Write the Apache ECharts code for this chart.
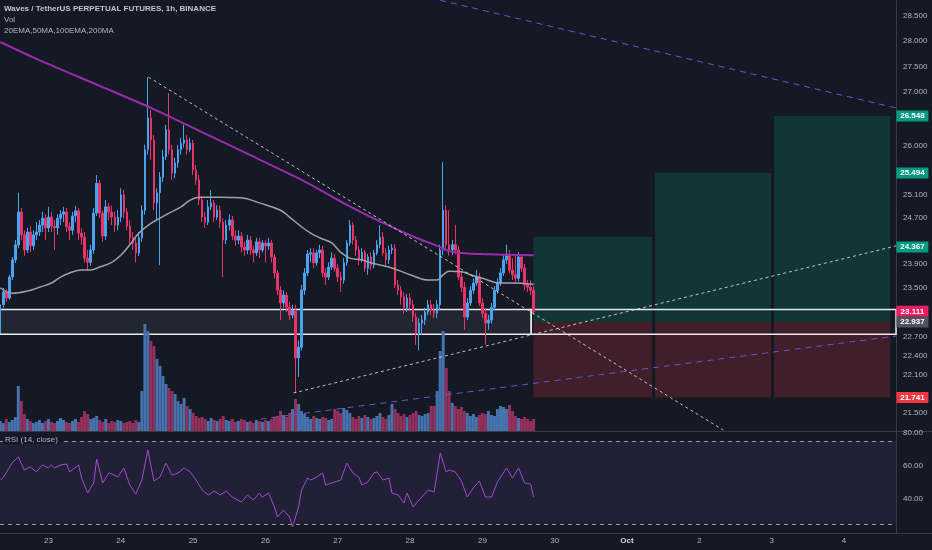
<!DOCTYPE html>
<html><head><meta charset="utf-8">
<script src="https://cdn.jsdelivr.net/npm/echarts@6/dist/echarts.min.js"></script>
<style>html,body{margin:0;padding:0;background:#151924;overflow:hidden}#c{width:932px;height:550px}</style>
</head><body><div id="c"></div>
<script>
// 1h candles, index 0 = 22 Sep 08:00 ; index 16 = 23 Sep 00:00
const opens = [
22.76,23.22,23.43,23.33,23.68,23.97,24.23,24.80,24.40,24.14,
24.45,24.21,24.40,24.45,24.57,24.69,24.52,24.71,24.55,24.52,
24.69,24.76,24.80,24.54,24.48,24.73,24.82,24.43,24.36,24.00,
23.93,24.14,24.78,25.31,24.78,24.38,24.89,24.80,24.71,24.57,
24.71,25.10,24.80,24.55,24.35,24.26,24.09,24.35,24.83,25.92,
26.51,26.10,24.96,25.14,25.42,25.79,26.29,25.92,25.49,25.68,
25.92,26.04,26.10,25.92,26.04,25.55,25.37,25.01,24.71,24.62,
24.89,24.96,24.71,24.83,24.62,24.31,24.57,24.66,24.38,24.31,
24.38,24.19,24.14,24.31,24.14,24.09,24.28,24.14,24.26,24.21,
24.26,24.02,23.75,23.46,23.25,23.38,23.18,23.05,23.13,22.36,
22.53,23.46,23.75,24.07,24.09,23.92,24.09,24.14,23.75,23.68,
23.85,24.00,23.83,23.68,23.63,23.92,24.26,24.57,24.31,24.14,
23.97,24.10,23.83,24.02,23.88,24.09,24.23,24.36,24.09,23.97,
24.14,24.17,23.55,23.46,23.35,23.17,23.33,23.22,23.02,22.76,
22.92,22.97,23.10,23.22,23.13,23.08,23.22,24.14,24.83,24.23,
24.14,24.23,24.14,23.68,23.51,23.02,23.25,23.46,23.58,23.68,
23.25,23.08,22.92,22.97,23.18,23.46,23.58,23.75,23.97,24.05,
23.80,23.72,23.66,24.02,23.83,23.55,23.51,23.46];
const closes = [
23.22,23.43,23.33,23.68,23.97,24.23,24.80,24.40,24.14,24.45,
24.21,24.40,24.45,24.57,24.69,24.52,24.71,24.55,24.52,24.69,
24.76,24.80,24.54,24.48,24.73,24.82,24.43,24.36,24.00,23.93,
24.14,24.78,25.31,24.78,24.38,24.89,24.80,24.71,24.57,24.71,
25.10,24.80,24.55,24.35,24.26,24.09,24.35,24.83,25.92,26.51,
26.10,24.96,25.14,25.42,25.79,26.29,25.92,25.49,25.68,25.92,
26.04,26.10,25.92,26.04,25.55,25.37,25.01,24.71,24.62,24.89,
24.96,24.71,24.83,24.62,24.31,24.57,24.66,24.38,24.31,24.38,
24.19,24.14,24.31,24.14,24.09,24.28,24.14,24.26,24.21,24.26,
24.02,23.75,23.46,23.25,23.38,23.18,23.05,23.13,22.36,22.53,
23.46,23.75,24.07,24.09,23.92,24.09,24.14,23.75,23.68,23.85,
24.00,23.83,23.68,23.63,23.92,24.26,24.57,24.31,24.14,23.97,
24.10,23.83,24.02,23.88,24.09,24.23,24.36,24.09,23.97,24.14,
24.17,23.55,23.46,23.35,23.17,23.33,23.22,23.02,22.76,22.92,
22.97,23.10,23.22,23.13,23.08,23.22,24.14,24.83,24.23,24.14,
24.23,24.14,23.68,23.51,23.02,23.25,23.46,23.58,23.68,23.25,
23.08,22.92,22.97,23.18,23.46,23.58,23.75,23.97,24.05,23.80,
23.72,23.66,24.02,23.83,23.55,23.51,23.46,23.11];
const highs = [
23.30,23.50,23.48,23.72,24.02,24.31,25.14,24.87,24.48,24.52,
24.55,24.48,24.62,24.66,24.80,24.76,24.89,24.80,24.66,24.76,
24.83,24.89,24.87,24.62,24.80,24.91,24.87,24.52,24.45,24.14,
24.23,24.87,25.46,25.37,24.83,25.01,24.96,24.91,24.80,24.83,
25.22,25.19,24.87,24.66,24.45,24.35,24.45,24.92,26.01,27.29,
26.66,26.19,25.22,25.51,25.92,26.38,26.98,26.01,25.77,26.01,
26.14,26.38,26.19,26.14,26.10,25.64,25.46,25.08,24.80,25.01,
25.19,25.01,24.92,24.91,24.69,24.66,24.76,24.73,24.48,24.48,
24.45,24.28,24.40,24.38,24.21,24.35,24.35,24.31,24.31,24.35,
24.31,24.07,23.80,23.53,23.46,23.43,23.27,23.22,23.22,22.64,
23.55,23.83,24.14,24.17,24.17,24.14,24.23,24.21,23.83,23.93,
24.10,24.07,23.90,23.77,24.00,24.31,24.66,24.62,24.38,24.21,
24.17,24.14,24.07,24.10,24.14,24.31,24.57,24.45,24.17,24.21,
24.24,24.24,23.63,23.53,23.43,23.40,23.41,23.30,23.08,23.00,
23.05,23.17,23.30,23.30,23.23,23.30,24.23,25.69,24.92,24.83,
24.31,24.57,24.21,23.77,23.60,23.33,23.53,23.66,23.80,23.75,
23.33,23.17,23.05,23.25,23.53,23.66,23.83,24.05,24.23,24.14,
24.00,24.05,24.10,24.07,23.90,23.63,23.63,23.53];
const lows = [
22.64,23.17,23.27,23.30,23.63,23.92,24.17,24.31,24.04,24.09,
24.10,24.14,24.31,24.38,24.45,24.31,24.45,24.45,24.14,24.40,
24.57,24.62,24.45,24.31,24.40,24.62,24.31,24.23,23.93,23.80,
23.87,24.07,24.73,24.69,24.28,24.31,24.66,24.57,24.45,24.48,
24.62,24.69,24.48,24.23,24.14,23.93,24.04,24.28,24.75,25.83,
25.73,24.83,24.66,23.88,25.33,25.73,25.83,25.37,25.40,25.59,
25.83,25.96,25.83,25.88,25.46,25.28,24.92,24.62,24.52,24.57,
24.83,24.62,24.66,24.52,23.68,24.24,24.48,24.31,24.21,24.24,
24.10,24.04,24.07,24.05,23.93,24.04,24.00,24.10,23.93,24.14,
23.93,23.66,23.38,22.97,23.17,23.10,22.97,23.00,21.81,22.06,
22.48,23.38,23.70,23.93,23.83,23.87,24.00,23.68,23.55,23.63,
23.80,23.77,23.60,23.43,23.57,23.87,24.21,24.23,24.04,23.88,
23.93,23.77,23.72,23.80,23.83,24.05,24.17,24.04,23.88,23.90,
24.07,23.50,23.38,23.22,23.07,23.10,23.13,22.94,22.57,22.48,
22.73,22.89,23.05,23.05,23.00,23.00,23.13,24.05,24.14,24.04,
24.05,24.07,23.63,23.43,22.81,22.97,23.20,23.40,23.53,23.20,
23.00,22.57,22.81,22.91,23.13,23.40,23.53,23.70,23.90,23.74,
23.63,23.57,23.60,23.77,23.46,23.43,23.38,23.05];
// volume (thousands)
const volumes = [
10,8,12,9,11,14,45,30,17,12,
10,8,9,11,8,10,12,9,8,10,
13,11,9,8,10,12,9,14,20,17,
12,13,15,11,9,12,8,10,9,11,
10,8,9,10,8,11,9,40,107,100,
90,85,72,65,55,47,43,40,37,30,
27,33,25,22,18,15,13,14,12,10,
13,11,10,12,15,11,10,12,9,10,
12,11,9,10,8,11,10,9,11,10,
12,14,15,20,16,14,18,22,32,27,
20,17,14,12,15,13,12,14,13,11,
12,22,20,18,23,21,18,14,12,15,
13,16,14,12,13,15,18,14,12,16,
27,22,18,15,17,14,16,18,20,16,
15,17,18,25,25,40,80,100,63,40,
28,25,22,24,20,18,15,17,14,16,
18,17,20,16,15,22,25,24,22,26,
20,15,13,12,14,12,10,12];
// moving averages (candle index, price)
const maGrayIdx = [0,4,10,13,17,20,23,27,30,33,37,40,43,46,50,53,56,60,63,66,73,80,86,93,96,100,103,106,110,113,116,120,123,129,136,142,145,147,149,153,156,160,166,169,177];
const maGrayVal = [23.50,23.41,23.46,23.51,23.58,23.68,23.75,23.80,23.80,23.85,23.93,24.05,24.23,24.43,24.60,24.69,24.78,24.89,25.01,25.06,25.06,25.05,24.96,24.83,24.71,24.54,24.43,24.35,24.26,24.10,24.00,23.97,23.92,23.85,23.72,23.63,23.63,23.72,23.78,23.77,23.72,23.66,23.58,23.58,23.56];
const maPurpleIdx = [0,13,33,50,66,83,100,116,127,138,145,149,153,160,177];
const maPurpleVal = [27.98,27.62,27.12,26.70,26.27,25.82,25.37,24.90,24.61,24.35,24.21,24.12,24.09,24.07,24.05];
// RSI (14, close)
const rsiIdx = [0,1,3,4,6,8,10,12,14,16,
17,18,20,22,23,26,27,29,31,32,
34,36,37,39,41,43,45,47,49,51,
53,55,57,59,61,63,65,67,69,71,
73,75,77,80,82,84,86,87,89,91,
92,94,96,97,99,100,102,103,105,107,
108,110,113,115,117,119,120,122,124,125,
127,129,130,132,134,135,137,139,142,144,
146,148,149,151,153,155,157,159,161,163,
165,168,170,172,174,176,177];
const rsiVal = [51.5,53,59,62,65.5,57.6,59.4,56.4,60.6,58.8,
60.6,58.8,60.6,61.2,56.4,60.6,52.7,43.6,49.7,64.2,
49.7,55.8,55.2,53.3,58.8,48.5,43,51.5,69.7,50.9,
53.3,61.8,54.5,55.8,58.8,56.4,51.5,45.5,42.4,44.8,
42.4,44.8,41.2,38.2,42.4,39.4,43.6,41.2,43.6,35.2,
29.1,33.3,29.1,23,35.2,45.5,52.7,51.5,53.3,55.8,
48.5,49.7,51.5,61.8,55.8,53.3,48.5,50.3,55.8,56.4,
51.5,52.7,43.6,42.4,37.6,43.6,35.2,39.4,45.5,44.2,
67.9,56.4,57.6,56.4,51,41.2,46.7,50.9,41.2,41.2,
50.3,58.8,52.7,58.8,49.7,49.1,41.2];
const rsiBands = [25, 75];
// axes
const dayTickIdx = [16,40,64,88,112,136,160,184,208,232,256,280];
const dayTickLabels = ['23','24','25','26','27','28','29','30','Oct','2','3','4'];
const priceTicks = [28.5,28,27.5,27,26,25.1,24.7,23.9,23.5,22.7,22.4,22.1,21.5];
const rsiTicks = [40,60,80];
// long position tool
const entryPrice = 22.937, stopPrice = 21.741;
const targetPrices = [24.367, 25.494, 26.548];
const boxStartIdx = [176.9, 217.3, 256.8];
const boxEndIdx = [216.3, 255.8, 295.3];
// drawn trend lines: [idx1, price1, idx2, price2]
const trendPurpleTop = [146.0, 28.82, 297.26, 26.70];
const trendWhiteDown = [49.2, 27.29, 239.9, 21.245];
const trendWhiteUp = [97.3, 21.81, 297.26, 24.21];
const trendPurpleLow = [86.3, 21.41, 297.26, 22.71];
// zone rectangle
const zoneTop = 23.14, zoneBottom = 22.74, zoneSplitIdx = 176.2;
// price axis tags
const tagTexts = ['26.548','25.494','24.367','23.111','22.937','21.741'];
const tagPrices = [26.548, 25.494, 24.19, 23.111, 22.937, 21.741];
const tagColors = ['#089981','#089981','#089981','#e91e63','#50535e','#f23645'];

const X_MIN = -0.08, X_MAX = 309.2, X_EDGE = 297.26, TAG_X = 302.7;
const P_TOP = 28.825, P_BOT = 21.23;
const L = Math.log;
const FONT = 'Liberation Sans';
const AX = '#363a45';
const TXT = '#b2b5be';

const chart = echarts.init(document.getElementById('c'));
const candleData = opens.map((o, i) => [i, L(o), L(closes[i]), L(lows[i]), L(highs[i])]);
const volData = volumes.map((v, i) => ({value: [i, v], itemStyle: {color: closes[i] >= opens[i] ? '#4672ad' : '#93305c'}}));
const grayData = maGrayIdx.map((x, i) => [x, L(maGrayVal[i])]);
const purpleData = maPurpleIdx.map((x, i) => [x, L(maPurpleVal[i])]);
const rsiData = rsiIdx.map((x, i) => [x, rsiVal[i]]);

function seg(t, color, type, width) {
  return [{coord: [t[0], L(t[1])], lineStyle: {color: color, type: type, width: width}}, {coord: [t[2], L(t[3])]}];
}
const boxAreas = [];
targetPrices.forEach((tp, k) => {
  boxAreas.push([{coord: [boxStartIdx[k], L(entryPrice)], itemStyle: {color: 'rgba(8,153,129,0.22)'}}, {coord: [boxEndIdx[k], L(tp)]}]);
  boxAreas.push([{coord: [boxStartIdx[k], L(stopPrice)], itemStyle: {color: 'rgba(242,54,69,0.2)'}}, {coord: [boxEndIdx[k], L(entryPrice)]}]);
});
boxAreas.push([{coord: [X_MIN, L(zoneTop)], itemStyle: {color: 'rgba(150,155,170,0.10)', borderColor: '#e8e8ee', borderWidth: 1.5}}, {coord: [zoneSplitIdx, L(zoneBottom)]}]);
boxAreas.push([{coord: [zoneSplitIdx, L(zoneTop)], itemStyle: {color: 'rgba(0,0,0,0)', borderColor: '#e8e8ee', borderWidth: 1.5}}, {coord: [X_EDGE, L(zoneBottom)]}]);

const tagPoints = tagTexts.map((t, k) => ({
  name: t, coord: [TAG_X, L(tagPrices[k])], symbol: 'rect', symbolSize: [32, 11],
  itemStyle: {color: tagColors[k]},
  label: {show: true, position: 'inside', formatter: '{b}', color: '#ffffff', fontSize: 8, fontWeight: 'bold', fontFamily: FONT}
}));

const titleStyle = {color: TXT, fontSize: 8, fontWeight: 'normal', fontFamily: FONT};
const option = {
  backgroundColor: '#151924',
  animation: false,
  title: [
    {text: 'Waves / TetherUS PERPETUAL FUTURES, 1h, BINANCE', left: 4, top: 5, padding: 0, textStyle: Object.assign({}, titleStyle, {fontWeight: 'bold', color: '#c3c5cc'})},
    {text: 'Vol', left: 4, top: 16, padding: 0, textStyle: titleStyle},
    {text: '20EMA,50MA,100EMA,200MA', left: 4, top: 27, padding: 0, textStyle: titleStyle},
    {text: 'RSI (14, close)', left: 3, top: 436, padding: [0, 2], backgroundColor: '#151924', textStyle: titleStyle, z: 20}
  ],
  grid: [
    {left: 0, right: 0, top: 0, height: 431},
    {left: 0, right: 0, top: 431, height: 102}
  ],
  xAxis: [
    {type: 'value', gridIndex: 0, min: X_MIN, max: X_MAX, axisLine: {show: true, onZero: false, lineStyle: {color: AX}}, axisTick: {show: false}, axisLabel: {show: false}, splitLine: {show: false}},
    {type: 'value', gridIndex: 1, min: X_MIN, max: X_MAX, axisLine: {show: true, onZero: false, lineStyle: {color: AX}}, axisTick: {show: false}, splitLine: {show: false},
     axisLabel: {customValues: dayTickIdx, margin: 4, color: TXT, fontSize: 8, fontFamily: FONT,
       formatter: v => { const k = dayTickIdx.indexOf(Math.round(v)); const s = k >= 0 ? dayTickLabels[k] : ''; return s === 'Oct' ? '{b|Oct}' : s; },
       rich: {b: {fontWeight: 'bold', color: '#d1d4dc', fontSize: 8, fontFamily: FONT}}}}
  ],
  yAxis: [
    {type: 'value', gridIndex: 0, position: 'right', offset: -36, min: L(P_BOT), max: L(P_TOP),
     axisLine: {show: true, onZero: false, lineStyle: {color: AX}}, axisTick: {show: false}, splitLine: {show: false},
     axisLabel: {customValues: priceTicks.map(L), formatter: v => Math.exp(v).toFixed(3), color: TXT, fontSize: 8, fontFamily: FONT, margin: 7}},
    {type: 'value', gridIndex: 0, min: 0, max: 431, show: false, axisLine: {show: false, onZero: false}},
    {type: 'value', gridIndex: 1, position: 'right', offset: -36, min: 19.4, max: 81.2,
     axisLine: {show: true, onZero: false, lineStyle: {color: AX}}, axisTick: {show: false}, splitLine: {show: false},
     axisLabel: {customValues: rsiTicks, formatter: v => v.toFixed(2), color: TXT, fontSize: 8, fontFamily: FONT, margin: 7}}
  ],
  series: [
    {type: 'bar', name: 'Vol', xAxisIndex: 0, yAxisIndex: 1, data: volData, barWidth: 3, barGap: '-100%', z: 1, silent: true},
    {type: 'candlestick', name: 'WAVESUSDT', xAxisIndex: 0, yAxisIndex: 0, encode: {x: 0, y: [1, 2, 3, 4]}, data: candleData, barWidth: 2, z: 3,
     itemStyle: {color: '#4aa3f0', color0: '#e8336b', borderColor: '#4aa3f0', borderColor0: '#e8336b', borderWidth: 1},
     markArea: {silent: true, data: boxAreas}},
    {type: 'line', name: 'MA gray', xAxisIndex: 0, yAxisIndex: 0, data: grayData, smooth: 0.4, showSymbol: false, lineStyle: {color: '#9fa1a8', width: 1.5}, z: 4, silent: true},
    {type: 'line', name: 'MA purple', xAxisIndex: 0, yAxisIndex: 0, data: purpleData, smooth: 0.3, showSymbol: false, lineStyle: {color: '#9a2bb0', width: 2}, z: 4, silent: true,
     markLine: {silent: true, symbol: 'none', label: {show: false}, data: [
       seg(trendPurpleTop, '#5b5bd6', [6, 5], 1),
       seg(trendWhiteDown, 'rgba(230,230,235,0.8)', [3, 3], 1),
       seg(trendWhiteUp, 'rgba(230,230,235,0.8)', [3, 3], 1),
       seg(trendPurpleLow, '#5f58d0', [6, 5], 1)
     ]},
     markPoint: {silent: true, data: tagPoints}},
    {type: 'line', name: 'RSI', xAxisIndex: 1, yAxisIndex: 2, data: rsiData, showSymbol: false, lineStyle: {color: '#a04bd0', width: 1}, z: 4, silent: true,
     markArea: {silent: true, data: [[{coord: [X_MIN, rsiBands[0]], itemStyle: {color: 'rgba(126,87,194,0.12)'}}, {coord: [X_EDGE, rsiBands[1]]}]]},
     markLine: {silent: true, symbol: 'none', label: {show: false}, lineStyle: {color: '#9598a1', type: [4, 4], width: 1},
       data: rsiBands.map(b => [{coord: [X_MIN, b]}, {coord: [X_EDGE, b]}])}}
  ]
};
chart.setOption(option);
</script>
</body></html>
